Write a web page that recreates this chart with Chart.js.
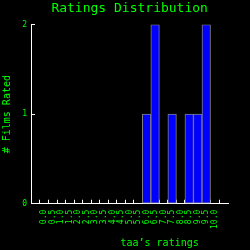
<!DOCTYPE html>
<html>
<head>
<meta charset="utf-8">
<script src="https://cdn.jsdelivr.net/npm/chart.js@4/dist/chart.umd.min.js"></script>
<style>
  html, body { margin: 0; padding: 0; background: #000; }
  #box { width: 250px; height: 250px; }
</style>
</head>
<body>
<div id="box"><canvas id="ratingsChart" width="250" height="250"></canvas></div>
<script>
// Ratings Distribution
const ratings = ['0.0', '0.5', '1.0', '1.5', '2.0', '2.5', '3.0', '3.5', '4.0', '4.5', '5.0',
                 '5.5', '6.0', '6.5', '7.0', '7.5', '8.0', '8.5', '9.0', '9.5', '10.0'];
const filmsRated = [0, 0, 0, 0, 0, 0, 0, 0, 0, 0, 0,
                    0, 1, 2, 0, 1, 0, 1, 1, 2, 0];
const countTicks = [0, 1, 2];

const green = '#00ff00';
const mono = 'DejaVu Sans Mono';

const points = ratings.map((r, i) => ({ x: parseFloat(r), y: filmsRated[i] }));

new Chart(document.getElementById('ratingsChart'), {
    type: 'bar',
    data: {
        datasets: [{
            data: points,
            backgroundColor: '#0000ff',
            borderColor: '#808080',
            borderWidth: 1,
            borderSkipped: false,
            barPercentage: 1,
            categoryPercentage: 1
        }]
    },
    options: {
        responsive: false,
        animation: false,
        devicePixelRatio: 1,
        layout: { padding: { left: 0, right: 22, top: 0, bottom: 0 } },
        plugins: {
            legend: { display: false },
            tooltip: { enabled: false },
            title: {
                display: true,
                // leading spaces centre the title over the plot area
                text: '    Ratings Distribution',
                color: green,
                font: { family: mono, size: 13, weight: 'normal', lineHeight: 1.2 },
                padding: { top: 1, bottom: 8 }
            }
        },
        scales: {
            x: {
                type: 'linear',
                min: -0.5,
                max: 10.5,
                afterBuildTicks: scale => {
                    scale.ticks = ratings.map(r => ({ value: parseFloat(r) }));
                },
                ticks: {
                    color: green,
                    font: { family: mono, size: 8 },
                    minRotation: 90,
                    maxRotation: 90,
                    autoSkip: false,
                    padding: 10,
                    callback: (value, i) => ratings[i]
                },
                grid: {
                    drawOnChartArea: false,
                    color: '#ffffff',
                    tickLength: -4
                },
                border: { color: '#ffffff', width: 1 },
                title: {
                    display: true,
                    text: '          taa’s ratings',
                    color: green,
                    font: { family: mono, size: 10, lineHeight: 1 },
                    padding: { top: -1, bottom: 2 }
                }
            },
            y: {
                min: 0,
                max: 2,
                afterBuildTicks: scale => {
                    scale.ticks = countTicks.map(v => ({ value: v }));
                },
                ticks: {
                    color: green,
                    font: { family: mono, size: 8 },
                    padding: 8
                },
                grid: {
                    drawOnChartArea: false,
                    color: '#ffffff',
                    tickLength: -4
                },
                border: { color: '#ffffff', width: 1 },
                title: {
                    display: true,
                    text: '# Films Rated',
                    color: green,
                    font: { family: mono, size: 10, lineHeight: 1.2 },
                    padding: { top: 1.5, bottom: 0.7 }
                }
            }
        }
    }
});
</script>
</body>
</html>
